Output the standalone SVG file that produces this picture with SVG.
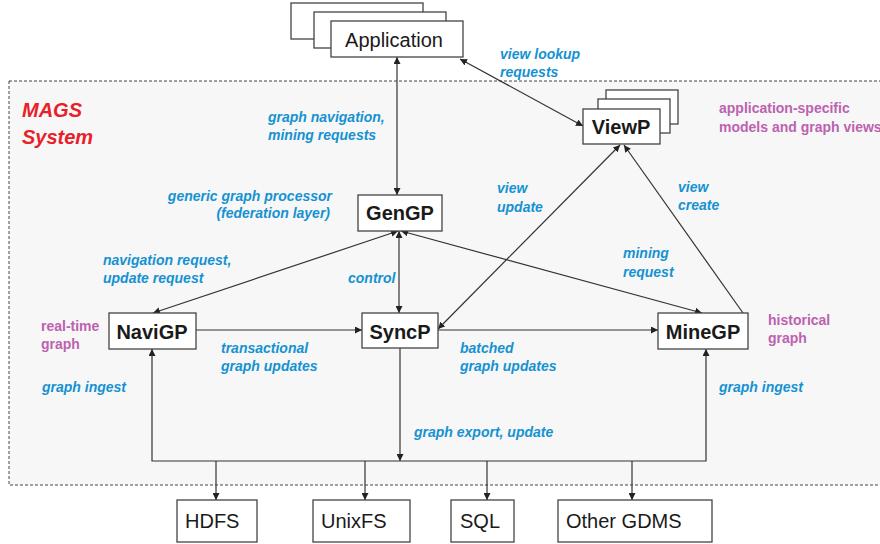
<svg xmlns="http://www.w3.org/2000/svg" width="880" height="544" viewBox="0 0 880 544">
<defs>
<marker id="ah" viewBox="0 0 10 10" refX="10" refY="5" markerWidth="7" markerHeight="7" markerUnits="userSpaceOnUse" orient="auto-start-reverse">
<path d="M0,0 L10,5 L0,10 z" fill="#222"/>
</marker>
<style>
.box{fill:#fff;stroke:#444;stroke-width:1.3}
.node{font-family:"Liberation Sans",Arial,sans-serif;font-weight:bold;font-size:20px;fill:#1a1a1a;text-anchor:middle}
.plain{font-family:"Liberation Sans",Arial,sans-serif;font-size:20px;fill:#1a1a1a}
.lbl{font-family:"Liberation Sans",Arial,sans-serif;font-weight:bold;font-style:italic;font-size:14px;fill:#1592d2}
.pur{font-family:"Liberation Sans",Arial,sans-serif;font-weight:bold;font-size:14px;fill:#bc62b0}
.red{font-family:"Liberation Sans",Arial,sans-serif;font-weight:bold;font-style:italic;font-size:20px;fill:#e8202a}
.c{fill:none;stroke:#333;stroke-width:1.2}
</style>
</defs>
<rect x="9" y="81" width="880" height="404" fill="#f7f7f7" stroke="#444" stroke-width="1" stroke-dasharray="3,2"/>
<g id="labels">
<text class="red" x="22" y="117">MAGS</text>
<text class="red" x="22" y="144">System</text>
<text class="lbl" x="500" y="59">view lookup</text>
<text class="lbl" x="500" y="77">requests</text>
<text class="lbl" x="268" y="122">graph navigation,</text>
<text class="lbl" x="268" y="140">mining requests</text>
<text class="lbl" x="332" y="201" text-anchor="end">generic graph processor</text>
<text class="lbl" x="330" y="218" text-anchor="end">(federation layer)</text>
<text class="pur" x="719" y="113">application-specific</text>
<text class="pur" x="719" y="132">models and graph views</text>
<text class="lbl" x="497" y="193">view</text>
<text class="lbl" x="497" y="212">update</text>
<text class="lbl" x="678" y="192">view</text>
<text class="lbl" x="678" y="210">create</text>
<text class="lbl" x="103" y="265">navigation request,</text>
<text class="lbl" x="103" y="283">update request</text>
<text class="lbl" x="348" y="283">control</text>
<text class="lbl" x="623" y="258">mining</text>
<text class="lbl" x="623" y="277">request</text>
<text class="pur" x="41" y="331">real-time</text>
<text class="pur" x="41" y="349">graph</text>
<text class="lbl" x="221" y="353">transactional</text>
<text class="lbl" x="221" y="371">graph updates</text>
<text class="lbl" x="42" y="392">graph ingest</text>
<text class="lbl" x="460" y="353">batched</text>
<text class="lbl" x="460" y="371">graph updates</text>
<text class="pur" x="768" y="325">historical</text>
<text class="pur" x="768" y="343">graph</text>
<text class="lbl" x="719" y="392">graph ingest</text>
<text class="lbl" x="414" y="437">graph export, update</text>
</g>
<g id="connectors">
<line class="c" x1="397" y1="57" x2="397" y2="195" marker-start="url(#ah)" marker-end="url(#ah)"/>
<line class="c" x1="460" y1="59" x2="583" y2="126" marker-start="url(#ah)" marker-end="url(#ah)"/>
<line class="c" x1="398" y1="231" x2="153" y2="313" marker-start="url(#ah)" marker-end="url(#ah)"/>
<line class="c" x1="399" y1="231" x2="399" y2="313" marker-start="url(#ah)" marker-end="url(#ah)"/>
<line class="c" x1="401" y1="231" x2="702" y2="313" marker-start="url(#ah)" marker-end="url(#ah)"/>
<line class="c" x1="196" y1="330" x2="362" y2="330" marker-end="url(#ah)"/>
<line class="c" x1="438" y1="330" x2="658" y2="330" marker-end="url(#ah)"/>
<line class="c" x1="620" y1="145" x2="438" y2="329" marker-start="url(#ah)" marker-end="url(#ah)"/>
<line class="c" x1="743" y1="313" x2="624" y2="145" marker-end="url(#ah)"/>
<line class="c" x1="400" y1="348" x2="400" y2="461" marker-end="url(#ah)"/>
<polyline class="c" points="152,349 152,461 706,461 706,349" marker-start="url(#ah)" marker-end="url(#ah)"/>
<line class="c" x1="216" y1="461" x2="216" y2="500" marker-end="url(#ah)"/>
<line class="c" x1="365" y1="461" x2="365" y2="500" marker-end="url(#ah)"/>
<line class="c" x1="487" y1="461" x2="487" y2="500" marker-end="url(#ah)"/>
<line class="c" x1="632" y1="461" x2="632" y2="500" marker-end="url(#ah)"/>
</g>
<g id="application">
<rect class="box" x="291" y="3" width="132" height="36"/>
<rect class="box" x="314" y="12" width="132" height="36"/>
<rect class="box" x="331" y="21" width="132" height="36"/>
<text class="plain" x="394" y="47" text-anchor="middle" font-size="21">Application</text>
</g>
<g id="viewp">
<rect class="box" x="606" y="90" width="72" height="34"/>
<rect class="box" x="598" y="99" width="72" height="34"/>
<rect class="box" x="583" y="109" width="77" height="35"/>
<text class="node" x="621" y="134">ViewP</text>
</g>
<g id="gengp">
<rect class="box" x="358" y="195" width="84" height="36"/>
<text class="node" x="400" y="220">GenGP</text>
</g>
<g id="navigp">
<rect class="box" x="109" y="313" width="87" height="36"/>
<text class="node" x="152" y="339">NaviGP</text>
</g>
<g id="syncp">
<rect class="box" x="362" y="313" width="76" height="35"/>
<text class="node" x="400" y="339">SyncP</text>
</g>
<g id="minegp">
<rect class="box" x="658" y="313" width="90" height="36"/>
<text class="node" x="703" y="339">MineGP</text>
</g>
<g id="hdfs">
<rect class="box" x="177" y="500" width="80" height="42"/>
<text class="plain" x="185" y="528">HDFS</text>
</g>
<g id="unixfs">
<rect class="box" x="313" y="500" width="97" height="42"/>
<text class="plain" x="321" y="528">UnixFS</text>
</g>
<g id="sql">
<rect class="box" x="451" y="500" width="63" height="42"/>
<text class="plain" x="460" y="528">SQL</text>
</g>
<g id="othergdms">
<rect class="box" x="558" y="500" width="154" height="42"/>
<text class="plain" x="566" y="528">Other GDMS</text>
</g>
</svg>
